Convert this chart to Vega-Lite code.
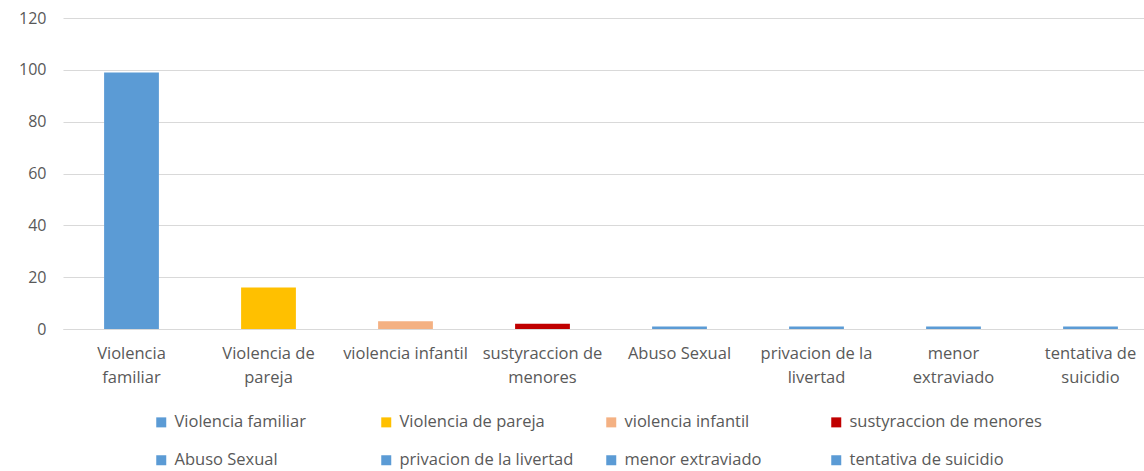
{
  "$schema": "https://vega.github.io/schema/vega-lite/v6.json",
  "width": 1096,
  "height": 311,
  "autosize": {"type": "none"},
  "padding": {"left": 63, "top": 18, "right": 0, "bottom": 142},
  "background": "white",
  "config": {"view": {"stroke": null}, "font": "Open Sans"},
  "data": {"values": [
    {"categoria": "Violencia familiar", "valor": 99},
    {"categoria": "Violencia de pareja", "valor": 16},
    {"categoria": "violencia infantil", "valor": 3},
    {"categoria": "sustyraccion de menores", "valor": 2},
    {"categoria": "Abuso Sexual", "valor": 1},
    {"categoria": "privacion de la livertad", "valor": 1},
    {"categoria": "menor extraviado", "valor": 1},
    {"categoria": "tentativa de suicidio", "valor": 1}
  ]},
  "mark": {"type": "bar"},
  "encoding": {
    "x": {
      "field": "categoria", "type": "nominal", "sort": null,
      "scale": {"paddingInner": 0.6, "paddingOuter": 0.3},
      "axis": {
        "title": null, "labelAngle": 0, "ticks": false,
        "domainColor": "#D9D9D9", "domainWidth": 1,
        "labelColor": "#595959", "labelFontSize": 16.5, "labelPadding": 16,
        "labelLineHeight": 24, "labelBaseline": "top",
        "labelExpr": "datum.label == 'Violencia familiar' ? ['Violencia','familiar'] : datum.label == 'Violencia de pareja' ? ['Violencia de','pareja'] : datum.label == 'sustyraccion de menores' ? ['sustyraccion de','menores'] : datum.label == 'privacion de la livertad' ? ['privacion de la','livertad'] : datum.label == 'menor extraviado' ? ['menor','extraviado'] : datum.label == 'tentativa de suicidio' ? ['tentativa de','suicidio'] : datum.label"
      }
    },
    "y": {
      "field": "valor", "type": "quantitative",
      "scale": {"domain": [0, 120]},
      "axis": {
        "title": null, "values": [0, 20, 40, 60, 80, 100, 120],
        "domain": false, "ticks": false, "gridColor": "#D9D9D9",
        "labelColor": "#595959", "labelFontSize": 16, "labelPadding": 17
      }
    },
    "color": {
      "field": "categoria", "type": "nominal", "sort": null,
      "scale": {
        "domain": ["Violencia familiar", "Violencia de pareja", "violencia infantil", "sustyraccion de menores", "Abuso Sexual", "privacion de la livertad", "menor extraviado", "tentativa de suicidio"],
        "range": ["#5B9BD5", "#FFC000", "#F4B183", "#C00000", "#5B9BD5", "#5B9BD5", "#5B9BD5", "#5B9BD5"]
      },
      "legend": {
        "title": null, "orient": "none", "legendX": 90, "legendY": 396,
        "direction": "horizontal", "columns": 4, "gridAlign": "all",
        "symbolType": "square", "symbolSize": 100, "symbolStrokeWidth": 0,
        "labelFontSize": 16.5, "labelColor": "#595959", "labelOffset": 5,
        "columnPadding": 11, "rowPadding": 21, "labelLimit": 400
      }
    }
  }
}
